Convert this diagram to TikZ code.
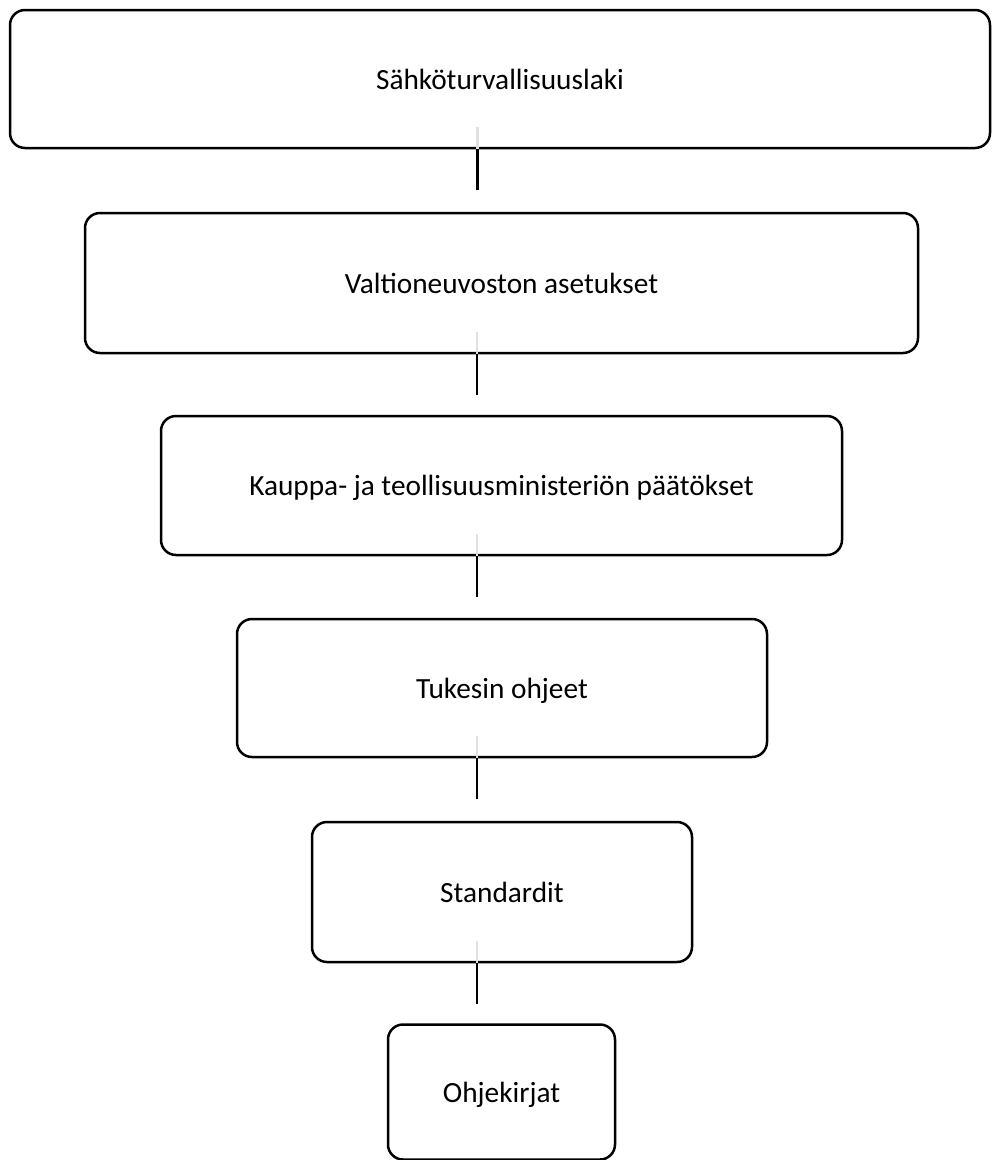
\documentclass[tikz,border=0pt]{standalone}
\usepackage{fontspec}
\setmainfont{Carlito}
\begin{document}
\begin{tikzpicture}[x=1pt,y=-1pt,
  box/.style={draw=black, line width=2.5pt, rounded corners=15pt, fill=white,
    font=\fontsize{29.3}{34}\selectfont, text height=20pt, text depth=0pt, inner sep=0pt},
  link/.style={draw=black, line width=2.5pt},
  ghost/.style={draw=black!12, line width=2.5pt}]
\useasboundingbox (0,0) rectangle (992,1160);
\node[box, minimum width=980pt, minimum height=138pt] (b1) at (500,79) {Sähköturvallisuuslaki};
\node[box, minimum width=833pt, minimum height=140pt] (b2) at (501.5,283) {Valtioneuvoston asetukset};
\node[box, minimum width=681pt, minimum height=139pt] (b3) at (501.5,485.5) {Kauppa- ja teollisuusministeriön päätökset};
\node[box, minimum width=530pt, minimum height=138pt] (b4) at (502,688) {Tukesin ohjeet};
\node[box, minimum width=380pt, minimum height=140pt] (b5) at (502,892) {Standardit};
\node[box, minimum width=227pt, minimum height=135pt] (b6) at (501.5,1092) {Ohjekirjat};
\foreach \a/\dx in {b1/-22.7,b2/-24.5,b3/-24.5,b4/-25,b5/-25}{
  \coordinate (\a-s) at ([xshift=\dx pt]\a.south);
  \draw[ghost] ([yshift=22pt]\a-s) -- (\a-s);
  \coordinate (\a-e) at ([yshift=-41pt]\a-s);
  \draw[link] (\a-s) -- (\a-e);
}
\end{tikzpicture}
\end{document}
